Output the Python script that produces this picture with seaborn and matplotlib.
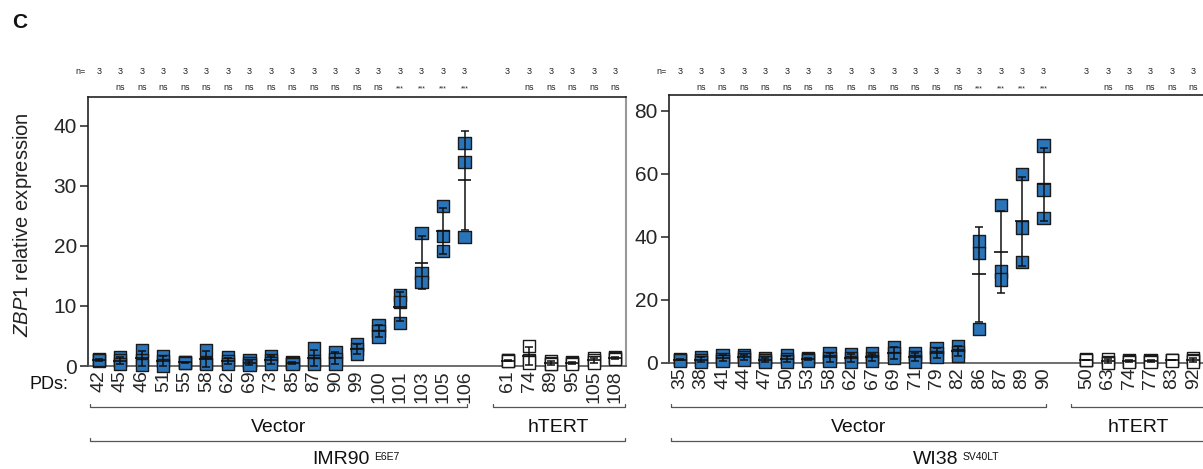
import numpy as np
import pandas as pd
import matplotlib
matplotlib.use("Agg")
import matplotlib.pyplot as plt
import seaborn as sns
from matplotlib import transforms

sns.set_theme(style="ticks")
plt.rcParams["font.family"] = ["Liberation Sans", "DejaVu Sans"]
plt.rcParams["mathtext.fontset"] = "custom"
plt.rcParams["mathtext.rm"] = "Liberation Sans"
plt.rcParams["mathtext.it"] = "Liberation Sans:italic"

# ---------------- data: IMR90 E6E7 ----------------
imr_vec_pd = ["42", "45", "46", "51", "55", "58", "62", "69", "73", "85", "87", "90",
              "99", "100", "101", "103", "105", "106"]
imr_vec_vals = [[1.1, 0.9, 1.0], [1.4, 0.9, 0.3], [2.6, 1.0, 0.2], [1.6, 0.8, 0.1],
                [0.7, 0.6, 0.5], [2.7, 0.5, 0.3], [1.4, 0.8, 0.3], [0.9, 0.5, 0.2],
                [1.7, 1.0, 0.4], [0.7, 0.5, 0.3], [2.9, 0.8, 0.3], [2.3, 1.2, 0.4],
                [3.6, 2.8, 2.0], [6.8, 5.8, 4.9], [11.8, 10.7, 7.2], [22.2, 15.5, 14.0],
                [26.7, 21.7, 19.2], [37.2, 34.0, 21.5]]
imr_vec_sig = ["", "ns", "ns", "ns", "ns", "ns", "ns", "ns", "ns", "ns", "ns", "ns",
               "ns", "ns", "***", "***", "***", "***"]
imr_tert_pd = ["61", "74", "89", "95", "105", "108"]
imr_tert_vals = [[1.0, 0.9, 0.8], [3.3, 1.0, 0.6], [0.8, 0.4, 0.3], [0.7, 0.5, 0.3],
                 [1.3, 0.9, 0.6], [1.5, 1.3, 1.2]]
imr_tert_sig = ["", "ns", "ns", "ns", "ns", "ns"]

# ---------------- data: WI38 SV40LT ----------------
wi_vec_pd = ["35", "38", "41", "44", "47", "50", "53", "58", "62", "67", "69", "71",
             "79", "82", "86", "87", "89", "90"]
wi_vec_vals = [[1.2, 1.0, 0.8], [1.8, 1.0, 0.3], [2.6, 1.3, 0.6], [2.6, 1.8, 1.1],
               [1.6, 1.0, 0.4], [2.4, 1.3, 0.5], [1.6, 1.2, 0.8], [3.2, 1.5, 0.6],
               [2.8, 1.5, 0.4], [3.0, 1.7, 0.6], [5.0, 3.0, 1.5], [3.0, 2.0, 0.5],
               [4.8, 3.0, 1.8], [5.5, 3.6, 2.4], [38.5, 35.0, 10.8], [50.0, 29.0, 26.5],
               [60.0, 43.0, 32.0], [69.0, 55.0, 46.0]]
wi_vec_sig = ["", "ns", "ns", "ns", "ns", "ns", "ns", "ns", "ns", "ns", "ns", "ns",
              "ns", "ns", "***", "***", "***", "***"]
wi_tert_pd = ["50", "63", "74", "77", "83", "92"]
wi_tert_vals = [[1.1, 1.0, 0.9], [1.2, 0.4, 0.1], [0.8, 0.6, 0.4], [1.0, 0.7, 0.4],
                [1.0, 0.9, 0.8], [1.7, 0.9, 0.5]]
wi_tert_sig = ["", "ns", "ns", "ns", "ns", "ns"]

BLUE = "#2a74b9"
W, H = 1203, 469
fig = plt.figure(figsize=(W / 100, H / 100), dpi=100)


def fy(px):
    return 1 - px / H


def panel(rect, vec_pd, vec_vals, vec_sig, tert_pd, tert_vals, tert_sig,
          ymax, yticks, cell, sup, right_end, show_right):
    ax = fig.add_axes(rect)
    nv = len(vec_pd)
    pos_v = list(range(nv))
    pos_t = [nv + 1 + i for i in range(len(tert_pd))]
    rows = []
    for p, vals in zip(pos_v, vec_vals):
        for v in vals:
            rows.append({"pos": p, "value": v, "group": "Vector"})
    for p, vals in zip(pos_t, tert_vals):
        for v in vals:
            rows.append({"pos": p, "value": v, "group": "hTERT"})
    df = pd.DataFrame(rows)
    sns.scatterplot(data=df, x="pos", y="value", hue="group",
                    palette={"Vector": BLUE, "hTERT": "white"}, marker="s", s=78,
                    edgecolor="#1a1a1a", linewidth=1.0, legend=False, ax=ax,
                    clip_on=False, zorder=3)
    stats = df.groupby("pos")["value"].agg(["mean", "std"]).reset_index()
    ax.errorbar(stats["pos"], stats["mean"], yerr=stats["std"], fmt="none",
                ecolor="#111111", elinewidth=1.1, capsize=2.8, capthick=1.1,
                zorder=4, clip_on=False)
    ax.hlines(stats["mean"], stats["pos"] - 0.32, stats["pos"] + 0.32,
              color="#111111", lw=1.2, zorder=4)

    ax.set_xlim(-0.5, 24.5)
    ax.set_ylim(0, ymax)
    ax.set_yticks(yticks)
    ax.set_yticklabels([str(t) for t in yticks], fontsize=15)
    ax.set_xticks(pos_v + pos_t)
    ax.set_xticklabels(vec_pd + tert_pd, rotation=90, fontsize=14)
    ax.tick_params(axis="x", length=0, pad=3)
    ax.tick_params(axis="y", length=6, width=1.1, pad=2, color="#222222")
    ax.set_xlabel("")
    ax.set_ylabel("")
    for s in ["left", "bottom", "top"]:
        ax.spines[s].set_color("#222222")
        ax.spines[s].set_linewidth(1.2)
    ax.spines["bottom"].set_color("#555555")
    ax.spines["right"].set_visible(show_right)
    ax.spines["right"].set_color("#999999")
    ax.spines["right"].set_linewidth(1.5)

    tr = transforms.blended_transform_factory(ax.transData, fig.transFigure)
    # n= and significance rows
    ax.text(-0.85, fy(72), "n=", transform=tr, ha="center", va="center", fontsize=6.5,
            color="#222222")
    for p, sig in zip(pos_v + pos_t, vec_sig + tert_sig):
        ax.text(p, fy(72), "3", transform=tr, ha="center", va="center", fontsize=6.5,
                color="#222222")
        if sig:
            ax.text(p, fy(87) if sig == "ns" else fy(89), sig, transform=tr,
                    ha="center", va="center",
                    fontsize=6.5 if sig == "ns" else 5, color="#222222")

    def bracket(x0, x1, ypx):
        y = fy(ypx)
        h = 3 / H
        ax.plot([x0, x0, x1, x1], [y + h, y, y, y + h], transform=tr, clip_on=False,
                color="#555555", lw=0.9)

    end = 24.45 if right_end is None else right_end
    bracket(-0.4, nv - 0.9, 407)
    ax.text((nv - 1.3) / 2, fy(427), "Vector", transform=tr, ha="center",
            va="center", fontsize=14, color="#111111")
    bracket(nv + 0.3, end, 407)
    ax.text((nv + 0.3 + end) / 2, fy(427), "hTERT", transform=tr, ha="center",
            va="center", fontsize=14, color="#111111")
    full_end = 24.45 if right_end is None else right_end + 1.2
    bracket(-0.4, full_end, 441)
    mid = (full_end - 0.4) / 2
    t = ax.text(mid - 0.75, fy(459), cell, transform=tr, ha="center", va="center",
                fontsize=14, color="#111111")
    ax.annotate(sup, xy=(1, 1), xycoords=t, xytext=(3, -1), textcoords="offset points",
                ha="left", va="top", fontsize=7.5, color="#111111")
    return ax


ax1 = panel([88 / W, fy(366), (626 - 88) / W, (366 - 97) / H],
            imr_vec_pd, imr_vec_vals, imr_vec_sig, imr_tert_pd, imr_tert_vals,
            imr_tert_sig, 44.8, [0, 10, 20, 30, 40], "IMR90", "E6E7", None, True)
ax2 = panel([669 / W, fy(363), (1204 - 669) / W, (363 - 95) / H],
            wi_vec_pd, wi_vec_vals, wi_vec_sig, wi_tert_pd, wi_tert_vals,
            wi_tert_sig, 85, [0, 20, 40, 60, 80], "WI38", "SV40LT", 24.6, False)

fig.text(0.019, fy(225), r"$\it{ZBP1}$ relative expression", rotation=90,
         ha="center", va="center", fontsize=14.5, color="#222222")
fig.text(49 / W, fy(384), "PDs:", ha="center", va="center", fontsize=13,
         color="#111111")
fig.text(12 / W, fy(22), "C", ha="left", va="center", fontsize=15,
         fontweight="bold", color="#111111")

fig.savefig("out.png", dpi=100)
